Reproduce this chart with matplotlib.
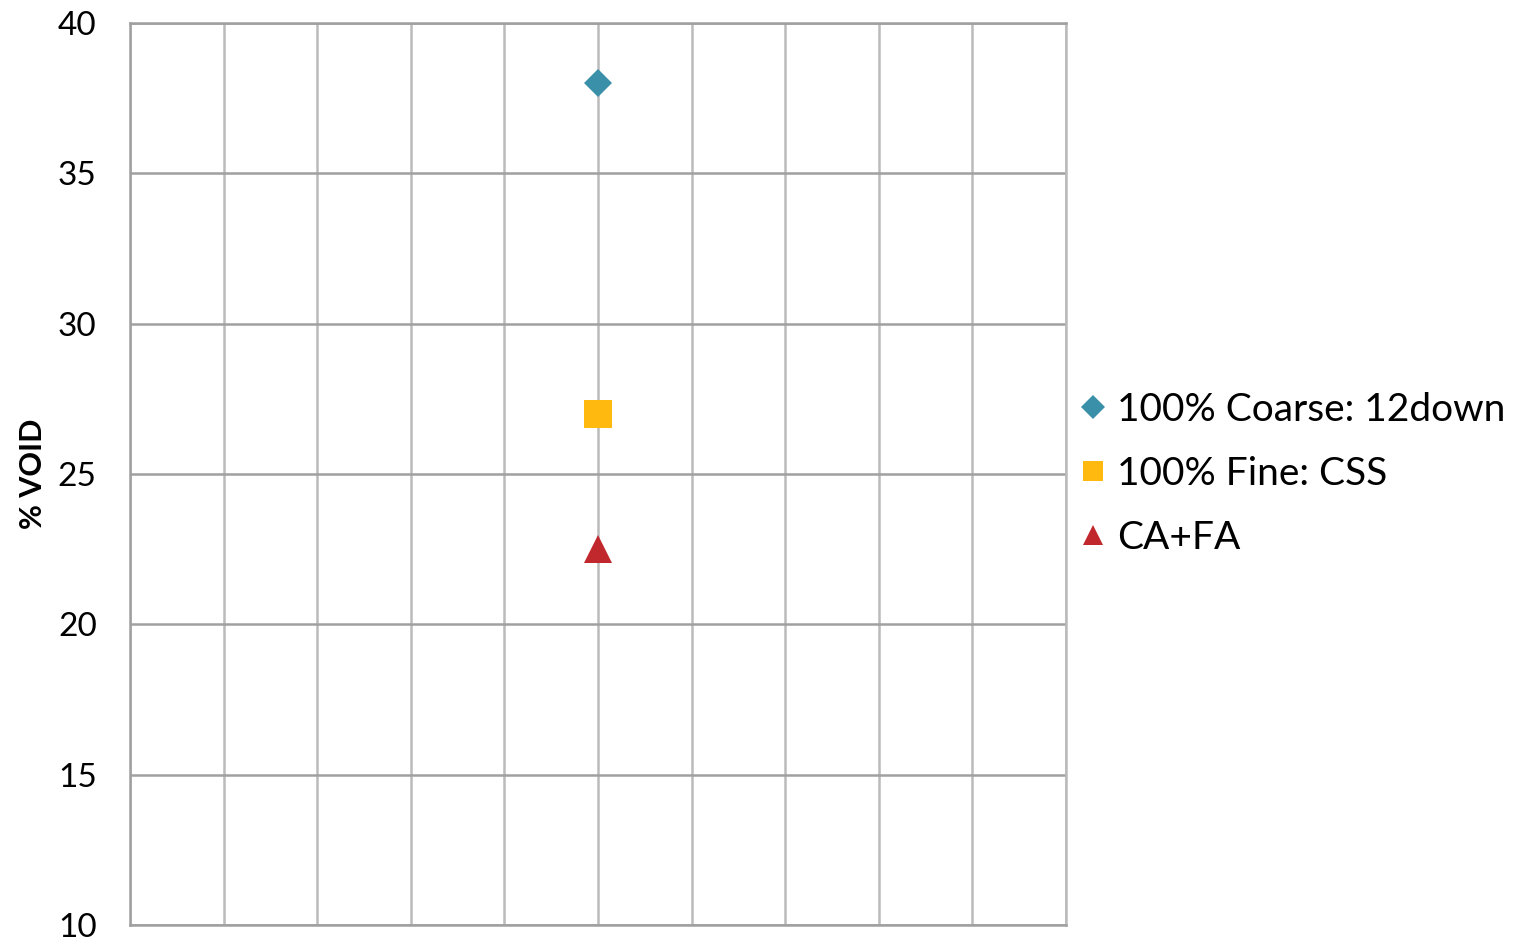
import matplotlib.pyplot as plt
from matplotlib.lines import Line2D

plt.rcParams['font.family'] = ['Lato', 'DejaVu Sans']

# data
series = ['100% Coarse: 12down', '100% Fine: CSS', 'CA+FA']
x_vals = [1, 1, 1]
void_pct = [38.0, 27.0, 22.5]
markers = ['D', 's', '^']
colors = ['#3A90A8', '#FFB90F', '#C0282D']
y_ticks = [10, 15, 20, 25, 30, 35, 40]

fig = plt.figure(figsize=(15.21, 9.42), dpi=100)
ax = fig.add_axes([130 / 1521, 17 / 942, (1066 - 130) / 1521, (925 - 23) / 942])

sizes = [14.5, 20, 20]
for name, x, y, m, c, s in zip(series, x_vals, void_pct, markers, colors, sizes):
    ax.plot([x], [y], linestyle='none', marker=m, color=c, markersize=s,
            markeredgewidth=0, zorder=3, label=name)

ax.set_xlim(0, 2)
ax.set_ylim(10, 40)
ax.set_xticks([i * 0.2 for i in range(11)])
ax.set_yticks(y_ticks)
ax.set_xticklabels([])
ax.tick_params(axis='both', length=0)
ax.tick_params(axis='y', labelsize=24, pad=24)

ax.grid(axis='x', color='#BBBBBB', linewidth=1.8)
ax.grid(axis='y', color='#A0A0A0', linewidth=1.8)
ax.set_axisbelow(True)
for sp in ax.spines.values():
    sp.set_color('#A0A0A0')
    sp.set_linewidth(1.8)
ax.spines['right'].set_color('#BBBBBB')

ax.set_ylabel('% VOID', fontsize=22, fontweight='bold', labelpad=8)

# legend with smaller markers
handles = [
    Line2D([], [], linestyle='none', marker='D', color=colors[0], markersize=12.5, markeredgewidth=0),
    Line2D([], [], linestyle='none', marker='s', color=colors[1], markersize=14.5, markeredgewidth=0),
    Line2D([], [], linestyle='none', marker='^', color=colors[2], markersize=15, markeredgewidth=0),
]
leg = ax.legend(handles, series, loc='center left', bbox_to_anchor=(1.0, 0.5),
                frameon=False, fontsize=28, handlelength=0.58, handletextpad=0.33,
                labelspacing=0.72, borderaxespad=0.0)

fig.savefig('out.png', dpi=100)
